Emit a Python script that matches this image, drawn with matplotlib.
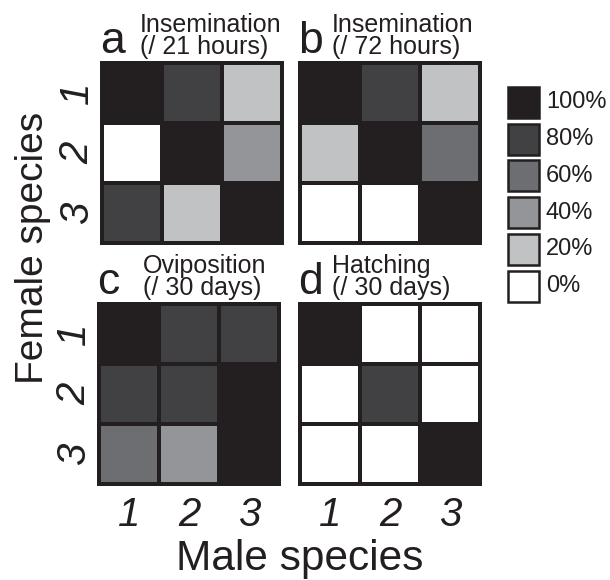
import matplotlib
matplotlib.use("Agg")
import matplotlib.pyplot as plt
from matplotlib.patches import Rectangle

plt.rcParams['font.family'] = ['Liberation Sans', 'DejaVu Sans']

# ---- data (percent) rows = female species 1..3, cols = male species 1..3
species = ["1", "2", "3"]
panel_letters = ["a", "b", "c", "d"]
panel_titles = ["Insemination\n(/ 21 hours)", "Insemination\n(/ 72 hours)",
                "Oviposition\n(/ 30 days)", "Hatching\n(/ 30 days)"]
insem_21h = [[100, 80, 20], [0, 100, 40], [80, 20, 100]]
insem_72h = [[100, 80, 20], [20, 100, 60], [0, 0, 100]]
oviposition = [[100, 80, 80], [80, 80, 100], [60, 40, 100]]
hatching = [[100, 0, 0], [0, 80, 0], [0, 0, 100]]
legend_levels = [100, 80, 60, 40, 20, 0]
legend_labels = ["100%", "80%", "60%", "40%", "20%", "0%"]
level_colors = {100: "#231f20", 80: "#414042", 60: "#6d6e71",
                40: "#939598", 20: "#c0c2c4", 0: "#ffffff"}

INK = "#231f20"
W, H = 610, 580
fig = plt.figure(figsize=(W / 100, H / 100), dpi=100)


def px_axes(l, t, r, b):
    return fig.add_axes([l / W, 1 - b / H, (r - l) / W, (b - t) / H])


def fx(x):
    return x / W


def fy(y):
    return 1 - y / H


boxes = [(100, 61, 284, 245), (298, 61, 482, 245),
         (97, 302, 281, 486), (298, 302, 482, 486)]
title_offsets = [40, 34, 46, 34]
datasets = [insem_21h, insem_72h, oviposition, hatching]
g = 4 / 60.0

axes = []
for k, (box, data) in enumerate(zip(boxes, datasets)):
    ax = px_axes(*box)
    ax.set_facecolor(INK)
    ax.set_xlim(0, 3 + g)
    ax.set_ylim(3 + g, 0)
    for sp in ax.spines.values():
        sp.set_visible(False)
    ax.set_xticks([])
    ax.set_yticks([])
    for i, row in enumerate(data):
        for j, v in enumerate(row):
            ax.add_patch(Rectangle((j + g, i + g), 1 - g, 1 - g,
                                   facecolor=level_colors[v], edgecolor='none'))
    axes.append(ax)

    # panel letter + title
    l, t, r, b = box
    fig.text(fx(l), fy(t - 8), panel_letters[k], fontsize=32, color=INK,
             ha='left', va='baseline')
    line1, line2 = panel_titles[k].split("\n")
    xo = l + title_offsets[k]
    fig.text(fx(xo), fy(t - 29), line1, fontsize=18, color=INK,
             ha='left', va='baseline')
    fig.text(fx(xo), fy(t - 7), line2, fontsize=18, color=INK,
             ha='left', va='baseline')

# tick labels (italic species numbers)
centers = [j + g + (1 - g) / 2 for j in range(3)]
for ax in (axes[0], axes[2]):
    for c, s in zip(centers, species):
        ax.annotate(s, xy=(0, c), xycoords=('axes fraction', 'data'),
                    xytext=(-12, 0), textcoords='offset pixels',
                    rotation=90, rotation_mode='anchor', ha='center',
                    va='baseline', fontsize=29, style='italic', color=INK)
for ax in (axes[2], axes[3]):
    for c, s in zip(centers, species):
        ax.annotate(s, xy=(c, 0), xycoords=('data', 'axes fraction'),
                    xytext=(0, -40), textcoords='offset pixels',
                    ha='center', va='baseline', fontsize=29, style='italic',
                    color=INK)

# axis titles
fig.text(fx(300), fy(570), "Male species", fontsize=30.5, color=INK,
         ha='center', va='baseline')
fig.text(fx(43), fy(248), "Female species", fontsize=28, color=INK,
         rotation=90, rotation_mode='anchor', ha='center', va='baseline')

# legend
for n, (lv, lab) in enumerate(zip(legend_levels, legend_labels)):
    top = 87 + n * 36.7
    fig.add_artist(Rectangle((fx(508), fy(top + 31)), 31 / W, 31 / H,
                             transform=fig.transFigure,
                             facecolor=level_colors[lv], edgecolor=INK,
                             linewidth=1.8))
    fig.text(fx(546), fy(top + 15.5), lab, fontsize=17, color=INK,
             ha='left', va='center')

fig.savefig("out.png", dpi=100)
